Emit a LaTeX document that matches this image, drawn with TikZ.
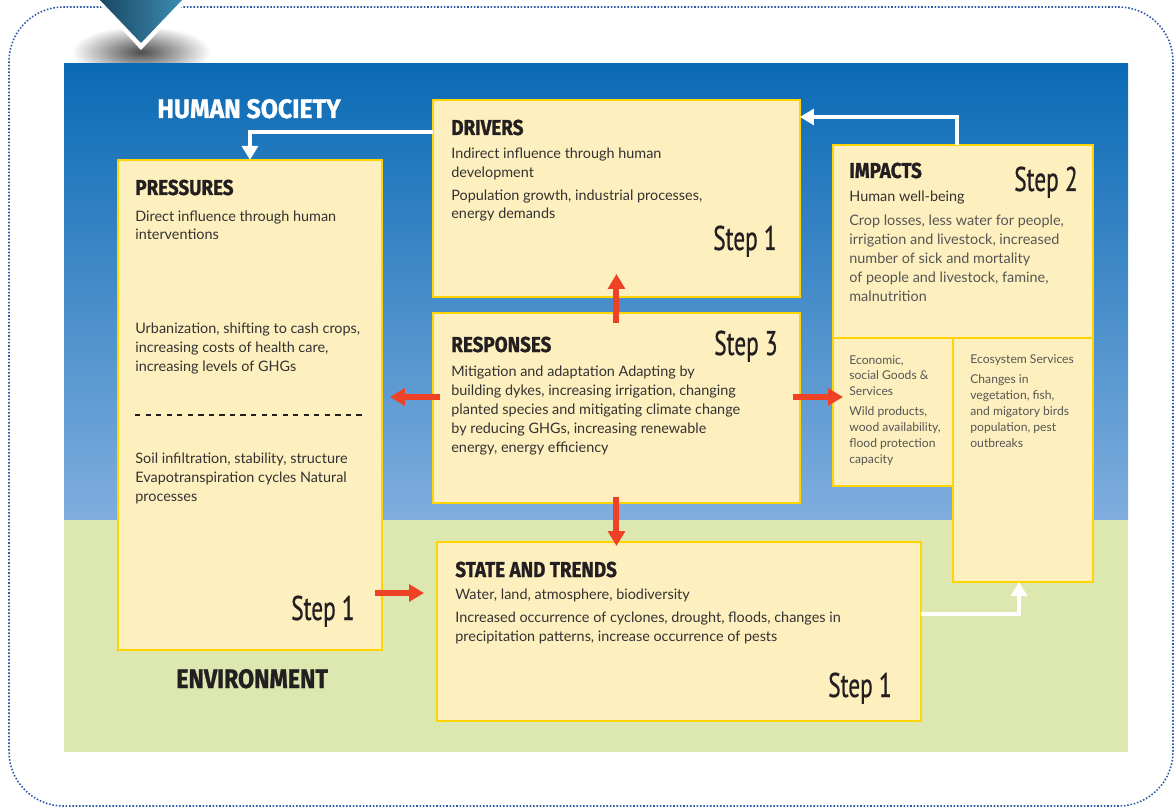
\documentclass[tikz,border=0pt]{standalone}
\usepackage{fontspec}
\setmainfont{Lato}
\newfontfamily\headfont[FakeStretch=0.87,FakeBold=1]{Fira Sans}
\newfontfamily\bigheadfont[FakeStretch=0.93,FakeBold=1]{Fira Sans}
\newfontfamily\stepfont[FakeStretch=0.68,FakeBold=0.6]{PT Sans}
\usetikzlibrary{arrows.meta,calc}

\definecolor{boxfill}{HTML}{FEF0BE}
\definecolor{boxline}{HTML}{FFD400}
\definecolor{skytop}{HTML}{0A6AB4}
\definecolor{skybot}{HTML}{80AEDE}
\definecolor{land}{HTML}{DCE8AF}
\definecolor{redarr}{HTML}{EE4125}
\definecolor{frameblue}{HTML}{2E5AA5}
\definecolor{trileft}{HTML}{1A4764}
\definecolor{triright}{HTML}{3C8CB2}
\definecolor{inkdark}{HTML}{231F20}
\definecolor{inkbody}{HTML}{333132}
\definecolor{inkgrey}{HTML}{555555}

\begin{document}
\begin{tikzpicture}[x=0.02cm,y=-0.02cm,
  box/.style={draw=boxline,fill=boxfill,line width=1.6pt,inner sep=0pt,outer sep=0pt,anchor=north west},
  head/.style={anchor=base west,inner sep=0pt,text=inkdark,font=\headfont\bfseries\fontsize{12.3}{14}\selectfont},
  body/.style={anchor=base west,inner sep=0pt,align=left,text=inkbody,font=\fontsize{8.2}{10.8}\selectfont},
  small/.style={anchor=base west,inner sep=0pt,align=left,text=inkgrey,font=\fontsize{6.9}{9}\selectfont},
  steplabel/.style={anchor=base east,inner sep=0pt,text=inkdark,font=\stepfont\fontsize{19.5}{20}\selectfont},
  redarrow/.style={draw=redarr,line width=3.4pt,-{Triangle[width=9.5pt,length=8.5pt]}},
  whitearrow/.style={draw=white,line width=2.8pt,-{Triangle[width=9pt,length=8pt]}}]

\useasboundingbox (0,0) rectangle (1175,807);

% frame and marker
\draw[frameblue,densely dotted,line width=0.9pt,rounded corners=31pt] (9,7) rectangle (1173,806);
\shade[inner color=black!70,outer color=white] (141,52) ellipse (70 and 26);
\fill[white] (95,0) -- (188,0) -- (141,50) -- cycle;
\shade[left color=trileft,right color=triright] (100,0) -- (182,0) -- (141,43) -- cycle;

% sky and land
\shade[top color=skytop,bottom color=skybot] (64,64) rectangle (1128,520);
\fill[land] (64,520) rectangle (1128,752);

\node[anchor=base west,inner sep=0pt,text=white,font=\bigheadfont\bfseries\fontsize{15.2}{16}\selectfont] (society) at (157,118) {HUMAN SOCIETY};
\node[anchor=base west,inner sep=0pt,text=inkdark,font=\headfont\bfseries\fontsize{15.2}{16}\selectfont] (environment) at (176,688) {ENVIRONMENT};

% boxes
\node[box,minimum width=7.34cm,minimum height=3.94cm] (drivers) at (433,100) {};
\node[box,minimum width=5.28cm,minimum height=9.80cm] (pressures) at (118,160) {};
\node[box,minimum width=5.20cm,minimum height=3.86cm] (impacts) at (833,145) {};
\node[box,minimum width=2.40cm,minimum height=2.96cm] (econ) at (833,338) {};
\node[box,minimum width=2.80cm,minimum height=4.88cm] (ecosys) at (953,338) {};
\node[box,minimum width=7.34cm,minimum height=3.80cm] (responses) at (433,313) {};
\node[box,minimum width=9.68cm,minimum height=3.58cm] (state) at (437,542) {};

% drivers (multi-line texts sit on their last line)
\node[head] (drvhead) at (451,135) {DRIVERS};
\node[body] (drvtext) at (451,219) {Indirect influence through human\\development\\[2.3pt]Population growth, industrial processes,\\energy demands};
\node[steplabel] (drvstep) at (777,250) {Step 1};

% pressures
\node[head] (prshead) at (135,195) {PRESSURES};
\node[body] (prsdirect) at (135,240) {Direct influence through human\\interventions};
\node[body] (prsurban) at (135,371) {Urbanization, shifting to cash crops,\\increasing costs of health care,\\increasing levels of GHGs};
\draw[inkdark,line width=0.7pt,dash pattern=on 3pt off 3pt] (135,415) -- (366,415);
\node[body] (prssoil) at (135,501) {Soil infiltration, stability, structure\\Evapotranspiration cycles Natural\\processes};
\node[steplabel] (prsstep) at (355,620) {Step 1};

% impacts
\node[head] (imphead) at (849,178) {IMPACTS};
\node[body] (impwell) at (849,202) {Human well-being};
\node[body,text=inkgrey] (imptext) at (849,301) {Crop losses, less water for people,\\irrigation and livestock, increased\\number of sick and mortality\\of people and livestock, famine,\\malnutrition};
\node[steplabel] (impstep) at (1078,191) {Step 2};
\node[small] (econtext) at (849,463) {Economic,\\social Goods \&\\Services\\[2.3pt]Wild products,\\wood availability,\\flood protection\\capacity};
\node[small] (ecostext) at (970,447) {Ecosystem Services\\[2.3pt]Changes in\\vegetation, fish,\\and migatory birds\\population, pest\\outbreaks};

% responses
\node[head] (rsphead) at (451,352) {RESPONSES};
\node[body] (rsptext) at (451,452) {Mitigation and adaptation Adapting by\\building dykes, increasing irrigation, changing\\planted species and mitigating climate change\\by reducing GHGs, increasing renewable\\energy, energy efficiency};
\node[steplabel] (rspstep) at (778,355) {Step 3};

% state and trends
\node[head] (stahead) at (455,577) {STATE AND TRENDS};
\node[body] (statext) at (455,641) {Water, land, atmosphere, biodiversity\\[2.3pt]Increased occurrence of cyclones, drought, floods, changes in\\precipitation patterns, increase occurrence of pests};
\node[steplabel] (stastep) at (892,697) {Step 1};

% connectors
\coordinate (drvout) at (0,132);
\coordinate (topturn) at (957,117);
\coordinate (midline) at (0,397);
\coordinate (lowline) at (0,593);
\coordinate (stateturn) at (1019,614);

\draw[whitearrow] (drivers.west |- drvout) -| (pressures.north);
\draw[whitearrow] (impacts.north -| topturn) |- (drivers.east |- topturn);
\draw[whitearrow] (state.east |- stateturn) -| (ecosys.south -| stateturn);

\draw[redarrow] ($(responses.north)+(0,10)$) -- ($(drivers.south)+(0,-23)$);
\draw[redarrow] ($(responses.west |- midline)+(7,0)$) -- ($(pressures.east |- midline)+(8,0)$);
\draw[redarrow] ($(responses.east |- midline)+(-7,0)$) -- ($(econ.west |- midline)+(10,0)$);
\draw[redarrow] ($(responses.south)+(0,-6)$) -- ($(state.north -| responses.south)+(0,4)$);
\draw[redarrow] ($(pressures.east |- lowline)+(-7,0)$) -- ($(state.west |- lowline)+(-13,0)$);

\end{tikzpicture}
\end{document}
